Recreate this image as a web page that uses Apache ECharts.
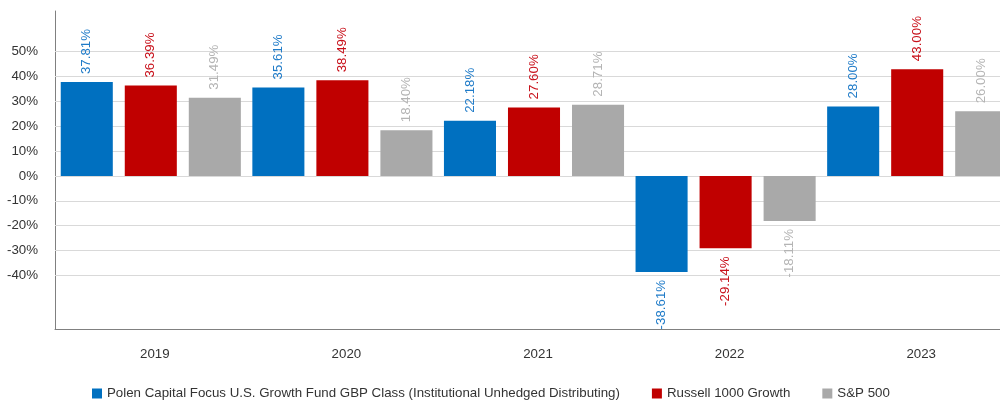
<!DOCTYPE html>
<html>
<head>
<meta charset="utf-8">
<style>
  html, body { margin: 0; padding: 0; overflow: hidden; background: #fff; width: 1000px; height: 400px; }
  #chart { width: 1013px; height: 400px; }
</style>
<script src="https://cdn.jsdelivr.net/npm/echarts@6/dist/echarts.min.js"></script>
</head>
<body>
<div id="chart"></div>
<script>
const years = ['2019', '2020', '2021', '2022', '2023'];
const polenValues = [37.81, 35.61, 22.18, -38.61, 28.00];
const russellValues = [36.39, 38.49, 27.60, -29.14, 43.00];
const spValues = [31.49, 18.40, 28.71, -18.11, 26.00];
const gridValues = [-40, -30, -20, -10, 0, 10, 20, 30, 40, 50];

const seriesNames = [
  'Polen Capital Focus U.S. Growth Fund GBP Class (Institutional Unhedged Distributing)',
  'Russell 1000 Growth',
  'S&P 500'
];
const barColors = ['#0070C0', '#C00000', '#A9A9A9'];
const labelColors = ['#1F7BC8', '#C8101A', '#B4B4B4'];

const font = 'Liberation Sans, Arial, sans-serif';
const fs = 13.3;

function barData(values) {
  return values.map(v => ({
    value: v,
    label: v < 0
      ? { position: 'bottom', align: 'right' }
      : { position: 'top', align: 'left' }
  }));
}

function barSeries(name, values, idx) {
  return {
    name: name,
    type: 'bar',
    data: barData(values),
    barGap: '23%',
    barCategoryGap: '6%',
    itemStyle: { color: barColors[idx] },
    label: {
      show: true,
      rotate: 90,
      distance: 8,
      verticalAlign: 'middle',
      color: labelColors[idx],
      fontSize: fs,
      fontFamily: font,
      formatter: p => p.value.toFixed(2) + '%'
    }
  };
}

const chart = echarts.init(document.getElementById('chart'));

chart.setOption({
  animation: false,
  grid: { left: 55, right: 0, top: 11, bottom: 71 },
  legend: {
    data: seriesNames,
    left: 92,
    top: 387,
    padding: 0,
    icon: 'rect',
    itemWidth: 10,
    itemHeight: 10,
    itemGap: 32,
    textStyle: { color: '#333', fontSize: fs, fontFamily: font }
  },
  xAxis: {
    type: 'category',
    data: years,
    axisLine: { onZero: false, lineStyle: { color: '#808080', width: 1 } },
    axisTick: { show: false },
    axisLabel: {
      color: '#333',
      fontSize: fs,
      fontFamily: font,
      margin: 19,
      padding: [0, 0, 0, 8]
    },
    splitLine: { show: false }
  },
  yAxis: {
    type: 'value',
    min: -61.6,
    max: 66.4,
    splitNumber: 12,
    axisLine: { show: true, lineStyle: { color: '#808080', width: 1 } },
    axisTick: { show: false },
    splitLine: { show: false },
    axisLabel: {
      color: '#333',
      fontSize: fs,
      fontFamily: font,
      margin: 17,
      showMinLabel: false,
      showMaxLabel: false,
      formatter: v => (gridValues.indexOf(v) >= 0 ? v + '%' : '')
    }
  },
  series: [
    barSeries(seriesNames[0], polenValues, 0),
    barSeries(seriesNames[1], russellValues, 1),
    barSeries(seriesNames[2], spValues, 2),
    {
      name: 'grid',
      type: 'line',
      data: [],
      silent: true,
      markLine: {
        z: 1,
        silent: true,
        symbol: 'none',
        animation: false,
        label: { show: false },
        lineStyle: { color: '#D9D9D9', type: 'solid', width: 1 },
        data: gridValues.map(v => ({ yAxis: v }))
      }
    }
  ]
});
</script>
</body>
</html>
